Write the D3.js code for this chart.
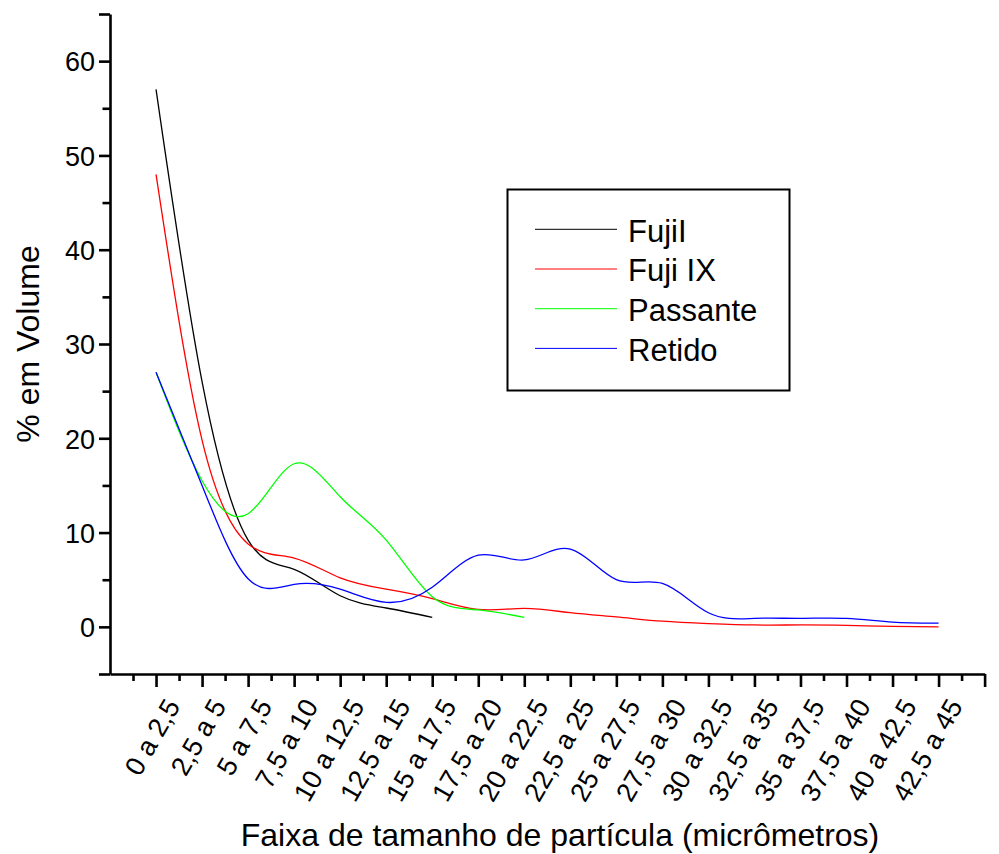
<!DOCTYPE html>
<html>
<head>
<meta charset="utf-8">
<script src="https://cdn.jsdelivr.net/npm/d3@7"></script>
<style>
  body { margin: 0; background: #fff; }
  text { font-family: "Liberation Sans", Arial, sans-serif; fill: #000; }
</style>
</head>
<body>
<div id="wrapper"></div>
<script>
// Size ranges on the x axis (one label per range)
const categories = ["0 a 2,5", "2,5 a 5", "5 a 7,5", "7,5 a 10", "10 a 12,5", "12,5 a 15",
  "15 a 17,5", "17,5 a 20", "20 a 22,5", "22,5 a 25", "25 a 27,5", "27,5 a 30",
  "30 a 32,5", "32,5 a 35", "35 a 37,5", "37,5 a 40", "40 a 42,5", "42,5 a 45"]

// % em Volume per range
const fujiI = [57, 26, 9.2, 6.1, 3.3, 2.0, 1.0]
const fujiIX = [48, 19.8, 8.8, 7.3, 5.2, 4.0, 3.0, 1.85, 1.95, 1.5, 1.05, 0.6, 0.35, 0.2, 0.2, 0.15, 0.05, 0]
const passante = [27, 15.5, 12, 17.3, 13.8, 9.2, 3.2, 1.8, 1.0]
const retido = [27, 15, 5.1, 4.5, 4.0, 2.6, 4.2, 7.6, 7.1, 8.25, 5.0, 4.6, 1.5, 0.9, 0.9, 0.9, 0.5, 0.4]

const seriesNames = ["FujiI", "Fuji IX", "Passante", "Retido"]
const seriesColors = ["#000000", "#ff0000", "#00ff00", "#0000ff"]

const yMajorTicks = [-5, 0, 10, 20, 30, 40, 50, 60, 65]
const yMinorTicks = [5, 15, 25, 35, 45, 55]

const dimensions = {
  width: 999,
  height: 854,
}

const svg = d3.select("#wrapper")
  .append("svg")
    .attr("width", dimensions.width)
    .attr("height", dimensions.height)

// x is the range index; -1 and 18 are the axis ends
const xScale = d3.scaleLinear()
  .domain([-1, 18])
  .range([110, 984.6])

const yScale = d3.scaleLinear()
  .domain([-5, 65])
  .range([674, 14])

// lines
const lineGenerator = d3.line()
  .x((d, i) => xScale(i))
  .y(d => yScale(d))
  .curve(d3.curveNatural)

const allSeries = [fujiI, fujiIX, passante, retido]
allSeries.forEach((values, k) => {
  svg.append("path")
    .attr("d", lineGenerator(values))
    .attr("fill", "none")
    .attr("stroke", seriesColors[k])
    .attr("stroke-width", 1.3)
})

// y axis: major ticks with labels, minor without
const yAxisMajor = d3.axisLeft(yScale)
  .tickValues(yMajorTicks)
  .tickSize(11)
  .tickSizeOuter(0)
  .tickPadding(4)
  .tickFormat(d => (d < 0 || d > 60) ? "" : d)
const yAxisMinor = d3.axisLeft(yScale)
  .tickValues(yMinorTicks)
  .tickSize(7.5)
  .tickFormat("")

const yAxis = svg.append("g")
  .attr("transform", `translate(${xScale(-1)},0)`)
  .call(yAxisMajor)
svg.append("g")
  .attr("transform", `translate(${xScale(-1)},0)`)
  .call(yAxisMinor)
  .select(".domain").remove()

// x axis
const xMajor = d3.range(0, 19)
const xMinor = d3.range(-0.5, 18, 1)
const xAxisMajor = d3.axisBottom(xScale)
  .tickValues(xMajor)
  .tickSize(13)
  .tickSizeOuter(0)
  .tickFormat("")
const xAxisMinor = d3.axisBottom(xScale)
  .tickValues(xMinor)
  .tickSize(7)
  .tickFormat("")
svg.append("g")
  .attr("transform", `translate(0,${yScale(-5)})`)
  .call(xAxisMajor)
svg.append("g")
  .attr("transform", `translate(0,${yScale(-5)})`)
  .call(xAxisMinor)
  .select(".domain").remove()

svg.selectAll(".domain, .tick line")
  .attr("stroke", "#000")
  .attr("stroke-width", 2.6)
svg.selectAll(".tick text")
  .style("font-size", "27px")
  .attr("fill", "#000")
yAxis.selectAll(".tick text").attr("dy", "0.36em")

// rotated category labels
svg.append("g")
  .selectAll("text")
  .data(categories)
  .join("text")
    .attr("text-anchor", "end")
    .attr("transform", (d, i) => `translate(${xScale(i) + 25},${706}) rotate(-60)`)
    .style("font-size", "27px")
    .text(d => d)

// axis titles
svg.append("text")
  .attr("x", 560)
  .attr("y", 846)
  .attr("text-anchor", "middle")
  .style("font-size", "32px")
  .text("Faixa de tamanho de partícula (micrômetros)")

svg.append("text")
  .attr("transform", `translate(39,${yScale(30)}) rotate(-90)`)
  .attr("text-anchor", "middle")
  .style("font-size", "32px")
  .text("% em Volume")

// legend
const legend = svg.append("g")
legend.append("rect")
  .attr("x", 507.5)
  .attr("y", 189.5)
  .attr("width", 282)
  .attr("height", 201)
  .attr("fill", "#fff")
  .attr("stroke", "#000")
  .attr("stroke-width", 2)
seriesNames.forEach((name, k) => {
  const y = 229.3 + k * 39.7
  legend.append("line")
    .attr("x1", 535).attr("x2", 617)
    .attr("y1", y).attr("y2", y)
    .attr("stroke", seriesColors[k])
    .attr("stroke-width", 1)
  legend.append("text")
    .attr("x", 628)
    .attr("y", y + 12.4)
    .style("font-size", "31px")
    .text(name)
})
</script>
</body>
</html>
